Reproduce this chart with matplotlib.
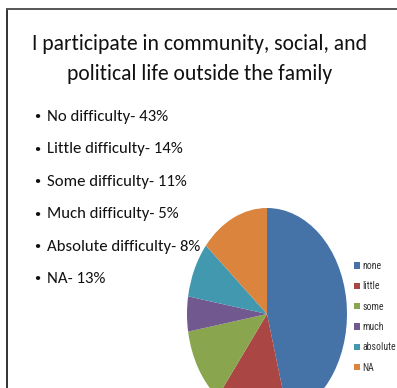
import matplotlib
matplotlib.use("Agg")
import matplotlib.pyplot as plt
from matplotlib.lines import Line2D

W, H = 397, 388
DPI = 100

title = "I participate in community, social, and\npolitical life outside the family"
bullet_labels = ["No difficulty- 43%", "Little difficulty- 14%", "Some difficulty- 11%",
                 "Much difficulty- 5%", "Absolute difficulty- 8%", "NA- 13%"]
categories = ["none", "little", "some", "much", "absolute", "NA"]
values = [43, 14, 11, 5, 8, 13]
colors = ["#4572A7", "#AA4643", "#89A54E", "#71588F", "#4198AF", "#DB843D"]

plt.rcParams["font.family"] = ["Carlito", "Roboto Condensed", "DejaVu Sans"]

fig = plt.figure(figsize=(W / DPI, H / DPI), dpi=DPI)
fig.patch.set_facecolor("white")


def fx(px):
    return px / W


def fy(py):
    return 1 - py / H


# slide frame (left and top edges)
fig.add_artist(Line2D([fx(7), fx(7)], [fy(9), 0], color="#333333", lw=1.4))
fig.add_artist(Line2D([fx(7), 1], [fy(9), fy(9)], color="#555555", lw=1.4))

# title
fig.text(fx(200), fy(59), title, ha="center", va="center", fontsize=15.6,
         color="#111111", linespacing=1.65)

# bullet list
for i, lab in enumerate(bullet_labels):
    y = fy(117 + i * 32.4)
    fig.text(fx(34), y, "\u2022", ha="left", va="center", fontsize=9, color="#111111")
    fig.text(fx(47), y, lab, ha="left", va="center", fontsize=12.1, color="#111111")

# pie (elliptical, stretched vertically)
cx, cy, rx, ry = 267, 314, 80, 106
ax = fig.add_axes([fx(cx - rx), fy(cy + ry), 2 * rx / W, 2 * ry / H])
wedges, _ = ax.pie(values, colors=colors, startangle=90, counterclock=False,
                   radius=1, wedgeprops=dict(linewidth=0))
ax.set_xlim(-1, 1)
ax.set_ylim(-1, 1)
ax.set_aspect("auto")
ax.axis("off")

# legend
leg = fig.legend(wedges, categories, loc="upper left",
                 bbox_to_anchor=(fx(349), fy(256)), frameon=False,
                 prop={"family": ["Roboto Condensed", "DejaVu Sans"], "size": 7.1},
                 handlelength=0.58, handleheight=0.58,
                 handletextpad=0.25, labelspacing=1.05, borderpad=0)
for t in leg.get_texts():
    t.set_color("#333333")

fig.savefig("out.png", dpi=DPI)
